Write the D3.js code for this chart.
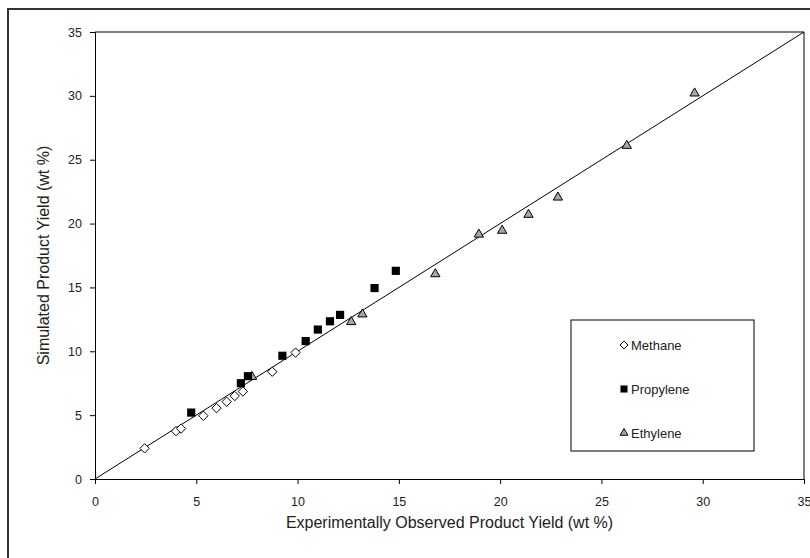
<!DOCTYPE html>
<html>
<head>
<meta charset="utf-8">
<script src="https://cdn.jsdelivr.net/npm/d3@7"></script>
<style>
  body { margin: 0; background: #fff; }
  svg text { font-family: "Liberation Sans", Arial, sans-serif; fill: #222; }
</style>
</head>
<body>
<div id="chart"></div>
<script>
const width = 810;
const height = 558;

// data: [observed, simulated]
const methane = [
  [2.45, 2.4], [4.0, 3.75], [4.25, 3.95], [5.35, 4.95], [6.0, 5.55],
  [6.5, 6.05], [6.9, 6.5], [7.3, 6.85], [8.75, 8.4], [9.9, 9.9]
];
const propylene = [
  [4.75, 5.2], [7.2, 7.5], [7.55, 8.05], [9.25, 9.65], [10.4, 10.8],
  [11.0, 11.7], [11.6, 12.35], [12.1, 12.85], [13.8, 14.95], [14.85, 16.3]
];
const ethylene = [
  [7.75, 8.0], [12.65, 12.3], [13.2, 12.9], [16.8, 16.05], [18.95, 19.15],
  [20.1, 19.45], [21.4, 20.7], [22.85, 22.05], [26.25, 26.1], [29.6, 30.2]
];
const ticks = [0, 5, 10, 15, 20, 25, 30, 35];
const legendNames = ["Methane", "Propylene", "Ethylene"];

const margin = { left: 95, top: 32, right: 6, bottom: 79 };

const svg = d3
  .select("#chart")
  .append("svg")
  .attr("width", width)
  .attr("height", height);

// outer frame (cut off at right and bottom)
svg
  .append("rect")
  .attr("x", 8)
  .attr("y", 9)
  .attr("width", 820)
  .attr("height", 580)
  .attr("fill", "none")
  .attr("stroke", "#333")
  .attr("stroke-width", 2);

const xScale = d3
  .scaleLinear()
  .domain([0, 35])
  .range([margin.left, width - margin.right]);

const yScale = d3
  .scaleLinear()
  .domain([0, 35])
  .range([height - margin.bottom, margin.top]);

// plot area border (top + right)
svg
  .append("path")
  .attr("d", "M" + xScale(0) + "," + yScale(35) + "H" + xScale(35) + "V" + yScale(0))
  .attr("fill", "none")
  .attr("stroke", "#000")
  .attr("stroke-width", 1);

const xAxis = d3.axisBottom(xScale).tickValues(ticks).tickSize(5).tickPadding(13);
const yAxis = d3.axisLeft(yScale).tickValues(ticks).tickSize(5).tickPadding(8);

const gx = svg
  .append("g")
  .attr("transform", "translate(0," + yScale(0) + ")")
  .call(xAxis);
const gy = svg
  .append("g")
  .attr("transform", "translate(" + xScale(0) + ",0)")
  .call(yAxis);

[gx, gy].forEach((g) => {
  g.select(".domain").attr("stroke", "#000");
  g.selectAll(".tick line").attr("stroke", "#000");
  g.selectAll("text").style("font-size", "12.5px").attr("fill", "#222");
});

// parity line
svg
  .append("line")
  .attr("x1", xScale(0))
  .attr("y1", yScale(0))
  .attr("x2", xScale(35))
  .attr("y2", yScale(35))
  .attr("stroke", "#000")
  .attr("stroke-width", 1);

const diamond = d3.symbol().type(d3.symbolDiamond2).size(56);
const square = d3.symbol().type(d3.symbolSquare2).size(85);
const triangle = d3.symbol().type(d3.symbolTriangle2).size(62);

svg
  .append("g")
  .selectAll("path")
  .data(methane)
  .enter()
  .append("path")
  .attr("d", diamond)
  .attr("transform", (d) => "translate(" + xScale(d[0]) + "," + yScale(d[1]) + ")")
  .attr("fill", "#fff")
  .attr("stroke", "#000")
  .attr("stroke-width", 1);

svg
  .append("g")
  .selectAll("path")
  .data(ethylene)
  .enter()
  .append("path")
  .attr("d", triangle)
  .attr("transform", (d) => "translate(" + xScale(d[0]) + "," + yScale(d[1]) + ")")
  .attr("fill", "#a6a6a6")
  .attr("stroke", "#000")
  .attr("stroke-width", 1);

svg
  .append("g")
  .selectAll("path")
  .data(propylene)
  .enter()
  .append("path")
  .attr("d", square)
  .attr("transform", (d) => "translate(" + xScale(d[0]) + "," + yScale(d[1]) + ")")
  .attr("fill", "#000");

// axis titles
svg
  .append("text")
  .attr("x", (xScale(0) + xScale(35)) / 2)
  .attr("y", 528)
  .attr("text-anchor", "middle")
  .style("font-size", "16px")
  .text("Experimentally Observed Product Yield (wt %)");

svg
  .append("text")
  .attr("transform", "translate(49," + (yScale(17.5)) + ") rotate(-90)")
  .attr("text-anchor", "middle")
  .style("font-size", "16px")
  .text("Simulated Product Yield (wt %)");

// legend
const legend = svg.append("g");
legend
  .append("rect")
  .attr("x", 571)
  .attr("y", 320)
  .attr("width", 183)
  .attr("height", 131)
  .attr("fill", "#fff")
  .attr("stroke", "#000")
  .attr("stroke-width", 1);

const legendSymbols = [
  { sym: d3.symbol().type(d3.symbolDiamond2).size(40), fill: "#fff", stroke: "#000" },
  { sym: d3.symbol().type(d3.symbolSquare2).size(64), fill: "#000", stroke: "none" },
  { sym: d3.symbol().type(d3.symbolTriangle2).size(44), fill: "#a6a6a6", stroke: "#000" }
];
const legendY = d3.scalePoint().domain(legendNames).range([345, 433]);

legend
  .selectAll("path")
  .data(legendNames)
  .enter()
  .append("path")
  .attr("d", (d, i) => legendSymbols[i].sym())
  .attr("transform", (d) => "translate(624," + legendY(d) + ")")
  .attr("fill", (d, i) => legendSymbols[i].fill)
  .attr("stroke", (d, i) => legendSymbols[i].stroke);

legend
  .selectAll("text")
  .data(legendNames)
  .enter()
  .append("text")
  .attr("x", 631)
  .attr("y", (d) => legendY(d) + 5)
  .style("font-size", "13px")
  .text((d) => d);
</script>
</body>
</html>
